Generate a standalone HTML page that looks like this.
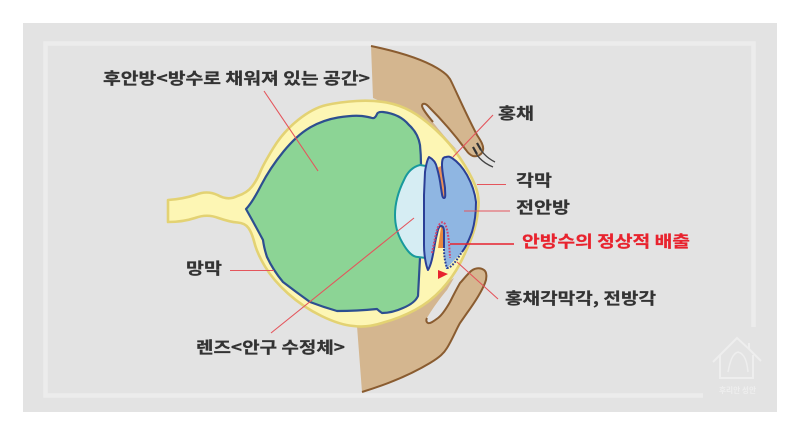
<!DOCTYPE html>
<html><head><meta charset="utf-8"><style>
html,body{margin:0;padding:0;background:#fff;width:800px;height:434px;overflow:hidden}
svg{display:block}
text{font-family:"Noto Sans CJK KR","Liberation Sans",sans-serif;font-weight:700;font-size:16px;fill:#333;stroke:#333;stroke-width:.25}
</style></head><body>
<svg width="800" height="434" viewBox="0 0 800 434" xmlns="http://www.w3.org/2000/svg">
<rect x="0" y="0" width="800" height="434" fill="#fff"/>
<rect x="23" y="23" width="754" height="389" fill="#e3e3e3"/>
<path d="M753.5 327V43.5H45.5V395.5H703" fill="none" stroke="#ececec" stroke-width="4.5"/>
<!-- watermark -->
<g fill="none" stroke="#eeeeee" stroke-width="2">
<path d="M713 362L737 338L749 349V343M749 349L761 361"/><path d="M720 355V378H753V355"/><path d="M728 372C730 362 732 354 738 352C745 354 747 362 748 372" stroke-width="1.5"/>
</g>
<text x="737.5" y="393" text-anchor="middle" style="font-size:8px;fill:#eeeeee;stroke:none" textLength="37" lengthAdjust="spacingAndGlyphs">후리안 성안</text>
<!-- top lid -->
<path d="M371 46C395 51 420 58 437 68C447 74 450 78 452 83C460 100 468 118 477 135C481 141 484 146 483 150C482 155 477 157 473 156C470 155 468 153 466 150C455 135 440 118 428 106C425 103 422 103 422 106C425 113 440 132 457 150L400 110L373 98Z" fill="#d4b68f"/>
<path d="M371 46C395 51 420 58 437 68C447 74 450 78 452 83C460 100 468 118 477 135C481 141 484 146 483 150C482 155 477 157 473 156C470 155 468 153 466 150C455 135 440 118 428 106C425 103 422 103 422 106C423 110 428 116 433 122" fill="none" stroke="#8a5c30" stroke-width="2"/>
<path d="M473 147C476 155 481 162 493 167M477 143C480 150 485 157 495 162" fill="none" stroke="#444" stroke-width="1.3"/>
<path d="M473 147L477 154M477 143L481 150" stroke="#333" stroke-width="2.2"/>
<!-- bottom lid -->
<path d="M357 326L362 392C385 385 410 375 430 363C440 357 444 353 447 348C452 340 456 330 460 323L467 313C475 302 481 293 485 283C487 278 487 272 484 270C480 267 474 268 470 272C464 278 463 280 460 283C456 290 453 296 450 302C446 309 442 315 438 318C434 321 430 324 428 323C426 322 426 320 427 318C431 311 440 298 447 290L454 278L420 300Z" fill="#d4b68f"/>
<path d="M362 392C385 385 410 375 430 363C440 357 444 353 447 348C452 340 456 330 460 323L467 313C475 302 481 293 485 283C487 278 487 272 484 270C480 267 474 268 470 272C464 278 463 280 460 283C456 290 453 296 450 302C446 309 442 315 438 318C434 321 430 324 428 323C426 322 426 320 427 318" fill="none" stroke="#8a5c30" stroke-width="2"/>
<!-- sclera -->
<path d="M168 200Q183 199 195 195Q207 190 217.500 195Q228 201 237.500 196Q247 193 252 186.500Q257 180 260 172.500Q263 165 273 148.500Q283 132 298 120Q313 108 326.500 105Q340 102 356.500 101Q373 100 386.500 102.500Q400 105 411.500 111.500Q423 118 436.500 130.500Q450 143 460 158Q470 173 475 185Q480 197 478 210Q477 223 472 236.500Q467 250 460 263.500Q453 277 441.500 289.500Q430 302 415 310Q400 318 383.500 322.500Q367 328 353.500 326Q340 325 321.500 316Q303 307 288 293.500Q273 280 265 266.500Q257 253 254.500 243Q252 233 248.500 228Q245 223 237.500 222.500Q230 222 218.500 218Q207 213.500 195 218Q183 222 168 222Z" fill="#fdf6b4" stroke="#e3d273" stroke-width="2.6" stroke-linejoin="round"/>
<!-- vitreous -->
<path d="M246 209Q252 203 261 185.500Q270 168 283.500 151.500Q297 135 310 127.500Q323 120 338 117.500Q353 115 362 116Q369 117 372 118Q375 119 377 114Q378 111.500 383 112Q400 114 409 125Q418 133 420 145Q421 155 421 165L420 258L418 296Q415 303 403 308Q392 313 382 313Q379 311 377 309Q357 311 337 311Q323 307 310 302Q296 292 283 282Q273 270 267 257Q264 248 263 240Q255 225 246 209Z" fill="#8cd495" stroke="#2d4f90" stroke-width="2.2" stroke-linejoin="round"/>
<!-- lens -->
<path d="M426 166L420 165C412 167 407 173 404 180C398 192 395 204 395 215C395 225 398 235 402 242C407 251 412 257 418 257L426 258Z" fill="#d6edf3" stroke="#18999c" stroke-width="2"/>
<!-- orange wedges -->
<path d="M437 168L443 165L445 198L442 198Z" fill="#e8905a"/>
<path d="M438 248L441 227L444 227L444.500 248Z" fill="#e8883e"/>
<!-- anterior chamber/iris -->
<path d="M429 157C433 159 436 163 437 168C439 175 440 180 441 188C442 193 442 198 444 198C446 198 445 193 445 188C444 180 442 172 442 165C442 159 443 157 446 157C449 156 450 157 452 158C458 162 463 168 467 175C472 184 475 193 476 202C476 213 475 222 472 232C469 240 466 247 462 252L446 269C445 262 444 256 444 248L444 232C444 228 443 226 441 226C439 226 438 229 437 234C434 245 433 262 428 270C426 266 424 255 424 245L424 195L425 172C426 165 427 160 429 157Z" fill="#8fb6e2"/>
<path d="M462 252C466 247 469 240 472 232C475 222 476 213 476 202C475 193 472 184 467 175C463 168 458 162 452 158C450 157 449 156 446 157C443 157 442 159 442 165C442 172 444 180 445 188C445 193 446 198 444 198C442 198 442 193 441 188C440 180 439 175 437 168C436 163 433 159 429 157C427 160 426 165 425 172L424 195V245C424 255 426 266 428 270C433 262 434 245 437 234C438 229 439 226 441 226C443 226 444 228 444 232V248" fill="none" stroke="#2b3f96" stroke-width="2" stroke-linejoin="round"/>
<!-- dotted -->
<path d="M432 253C434 243 436 232 438 227C440 222 443 221 445 224C448 230 449 240 450 258" fill="none" stroke="#d2456e" stroke-width="2" stroke-dasharray="1.8 1.4"/>
<path d="M444 249C444 256 445 262 447 268C452 268 458 258 462 252" fill="none" stroke="#2b3f96" stroke-width="2" stroke-dasharray="1.8 1.4"/>
<path d="M438 270L448 274L438 279Z" fill="#e8232e"/>
<!-- leader lines -->
<g stroke="#e4555c" stroke-width="1.1" fill="none">
<path d="M264 91L318 171"/>
<path d="M493 115L453 157"/>
<path d="M477 184.500H506"/>
<path d="M464 211H510"/>
<path d="M450 244H514" stroke="#e8232e" stroke-width="1.5"/>
<path d="M457 262L498 299"/>
<path d="M230 270.500H274"/>
<path d="M414 218L271 333"/>
</g>
<!-- labels -->
<text x="103" y="84" textLength="267" lengthAdjust="spacingAndGlyphs">후안방&lt;방수로 채워져 있는 공간&gt;</text>
<text x="498" y="119" textLength="36" lengthAdjust="spacingAndGlyphs">홍채</text>
<text x="516" y="186" textLength="36" lengthAdjust="spacingAndGlyphs">각막</text>
<text x="516" y="213" textLength="54" lengthAdjust="spacingAndGlyphs">전안방</text>
<text x="522" y="247" textLength="168" lengthAdjust="spacingAndGlyphs" style="fill:#e8232e;stroke:#e8232e">안방수의 정상적 배출</text>
<text x="505" y="304" textLength="151" lengthAdjust="spacingAndGlyphs">홍채각막각, 전방각</text>
<text x="186" y="274" textLength="36" lengthAdjust="spacingAndGlyphs">망막</text>
<text x="196" y="353" textLength="149" lengthAdjust="spacingAndGlyphs">렌즈&lt;안구 수정체&gt;</text>
</svg>
</body></html>
